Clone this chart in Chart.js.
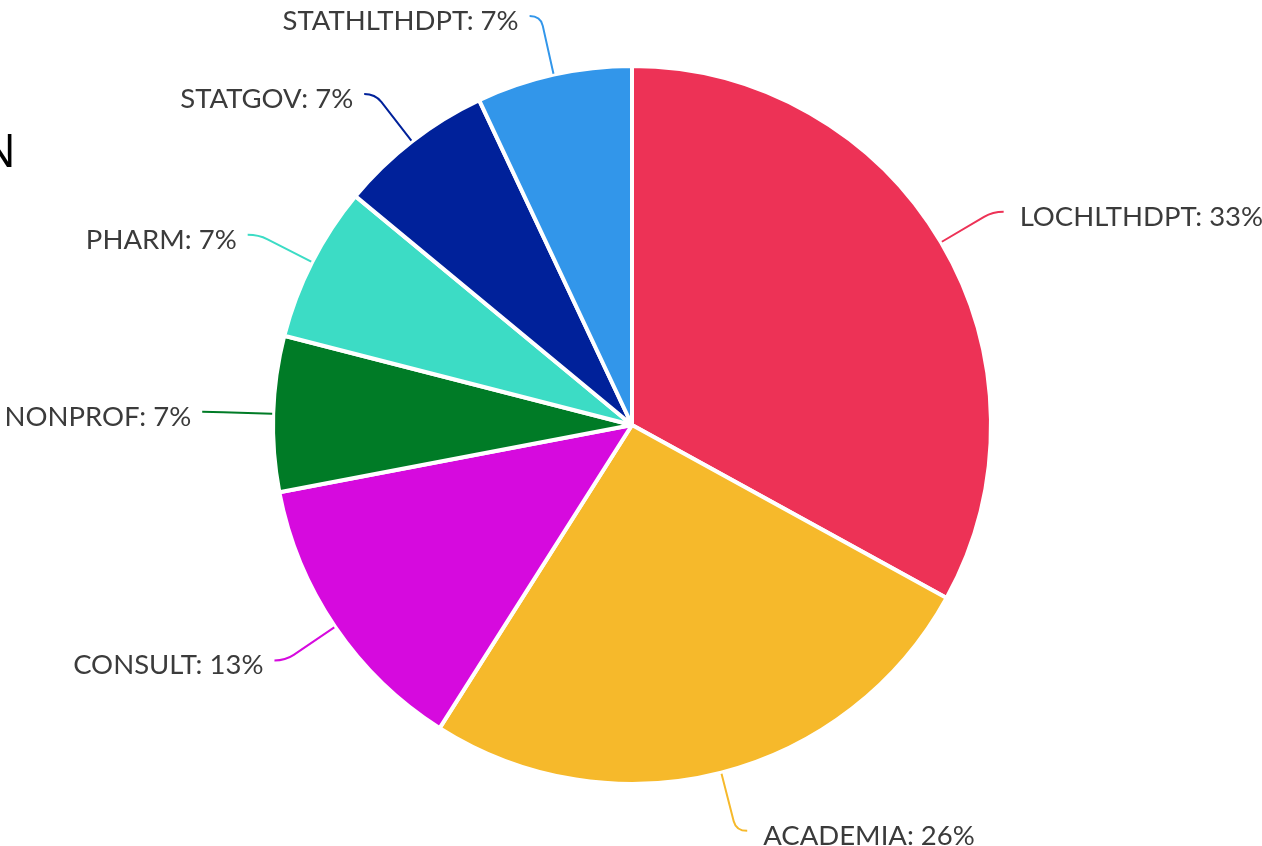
<!DOCTYPE html>
<html>
<head>
<meta charset="utf-8">
<script src="https://cdn.jsdelivr.net/npm/chart.js@4.4.0/dist/chart.umd.min.js"></script>
<style>
html,body{margin:0;padding:0;background:#fff;overflow:hidden;}
#wrap{position:relative;width:1262px;height:846px;}
</style>
</head>
<body>
<div id="wrap"><canvas id="c" width="1262" height="846"></canvas></div>
<script>
const categories = ["LOCHLTHDPT", "ACADEMIA", "CONSULT", "NONPROF", "PHARM", "STATGOV", "STATHLTHDPT"];
const percents = [33, 26, 13, 7, 7, 7, 7];
const colors = ["#ED3256", "#F6B92B", "#D60ADE", "#007B26", "#3CDCC5", "#00219A", "#3296EA"];
const titleFragment = "N";

const labelPlugin = {
  id: 'outLabels',
  afterDatasetsDraw(chart) {
    const ctx = chart.ctx;
    const meta = chart.getDatasetMeta(0);
    ctx.save();
    meta.data.forEach((arc, i) => {
      const mid = (arc.startAngle + arc.endAngle) / 2;
      const cx = arc.x, cy = arc.y, r = arc.outerRadius;
      const cos = Math.cos(mid), sin = Math.sin(mid);
      const right = cos >= 0;
      const sgn = right ? 1 : -1;
      const p0 = [cx + cos * (r + 1), cy + sin * (r + 1)];
      const p1 = [cx + cos * (r + 50), cy + sin * (r + 50)];
      const pc = [cx + cos * (r + 60), cy + sin * (r + 60)];
      const p2 = [pc[0] + sgn * 11, pc[1]];
      ctx.strokeStyle = colors[i];
      ctx.lineWidth = 2;
      ctx.beginPath();
      ctx.moveTo(p0[0], p0[1]);
      ctx.lineTo(p1[0], p1[1]);
      ctx.quadraticCurveTo(pc[0], pc[1], p2[0], p2[1]);
      ctx.stroke();
      ctx.fillStyle = "#3b3b3b";
      ctx.font = "27.5px Lato";
      ctx.textAlign = right ? "left" : "right";
      ctx.textBaseline = "middle";
      const gap = right ? 16 : 11;
      ctx.fillText(categories[i] + ": " + percents[i] + "%", p2[0] + sgn * gap, p2[1] + 5);
    });
    ctx.fillStyle = "#000";
    ctx.font = "46px 'Open Sans'";
    ctx.textAlign = "right";
    ctx.textBaseline = "alphabetic";
    ctx.fillText(titleFragment, 16, 167);
    ctx.restore();
  }
};

new Chart(document.getElementById('c'), {
  type: 'pie',
  data: {
    labels: categories,
    datasets: [{
      data: percents,
      backgroundColor: colors,
      borderColor: "#ffffff",
      borderWidth: 4
    }]
  },
  options: {
    responsive: false,
    animation: false,
    layout: { padding: { top: 64, bottom: 60, left: 198, right: 196 } },
    plugins: { legend: { display: false }, tooltip: { enabled: false } }
  },
  plugins: [labelPlugin]
});
</script>
</body>
</html>
